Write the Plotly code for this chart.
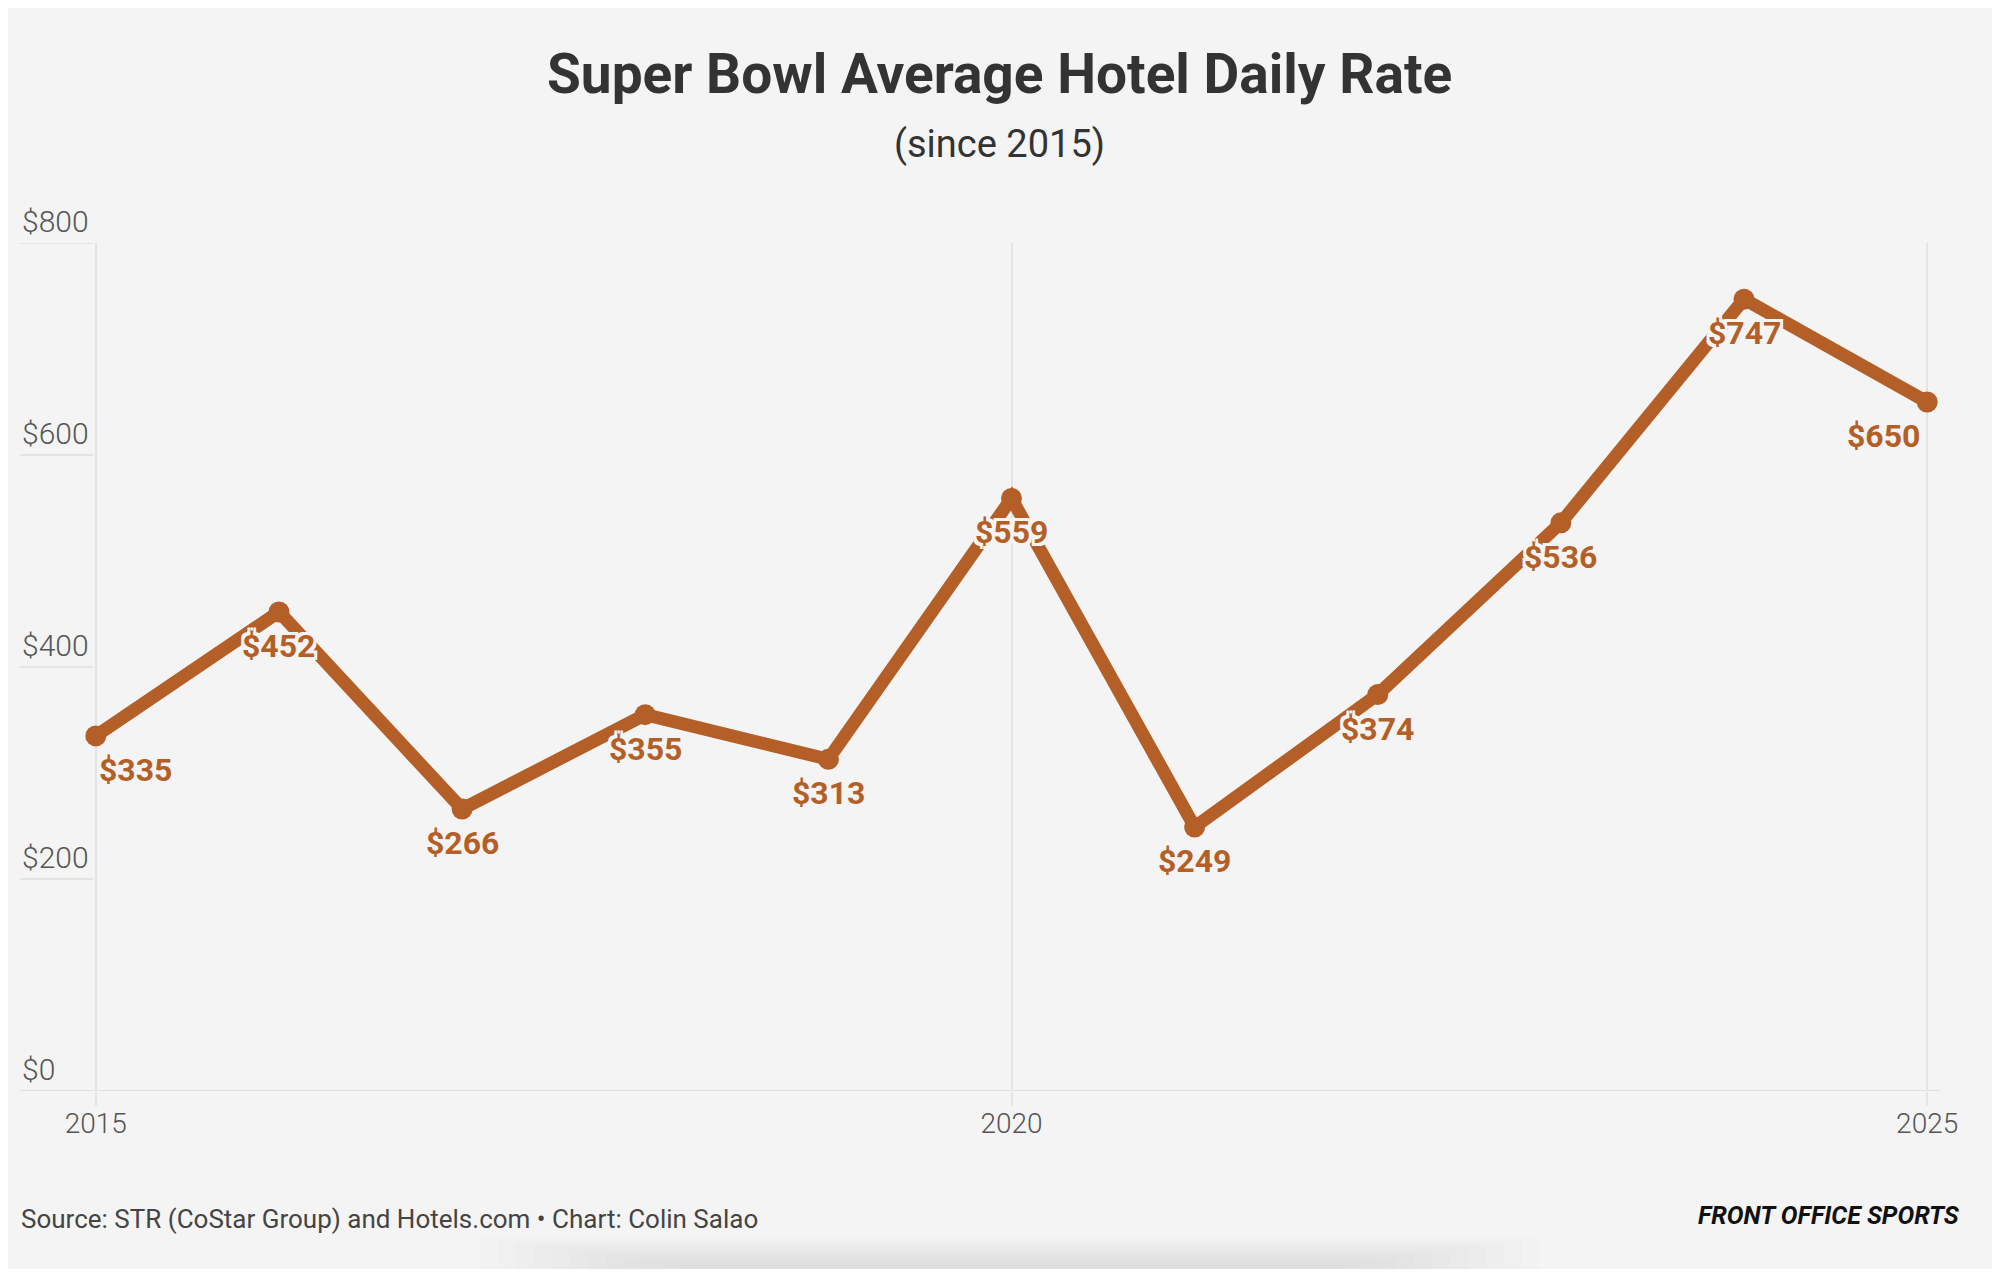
import plotly.graph_objects as go

# Super Bowl average hotel daily rate (USD)
years = [2015, 2016, 2017, 2018, 2019, 2020, 2021, 2022, 2023, 2024, 2025]
rates = [335, 452, 266, 355, 313, 559, 249, 374, 536, 747, 650]

y_ticks = [0, 200, 400, 600, 800]
y_tick_labels = ["$0", "$200", "$400", "$600", "$800"]
x_ticks = [2015, 2020, 2025]

title = "Super Bowl Average Hotel Daily Rate"
subtitle = "(since 2015)"
source = "Source: STR (CoStar Group) and Hotels.com • Chart: Colin Salao"
brand = "FRONT OFFICE SPORTS"

OFF = 8  # page body margin
W, H = 2000 - 2 * OFF, 1277 - 2 * OFF
# plot area, in screen pixels
L, R, T, B = 96, 1927, 243, 1091

BG = "#f4f4f4"
LINE = "#b45f27"
GRID = "#e4e4e4"
TXT = "#555555"
FONT = "Roboto"

pad = 0.01
x_range = [years[0] - pad, years[-1] + pad]
ppy = (R - L) / (years[-1] - years[0])
L_fig = L - OFF - pad * ppy
R_fig = R - OFF + pad * ppy
T_fig, B_fig = T - OFF, B - OFF


def px_x(px):
  return (px - OFF - L_fig) / (R_fig - L_fig)


def px_y(py):
  return (B_fig - (py - OFF)) / (B_fig - T_fig)


halo = ", ".join(f"{dx}px {dy}px 0 {BG}" for dx in (-3, 0, 3) for dy in (-3, 0, 3) if dx or dy)

fig = go.Figure()

fig.add_trace(go.Scatter(
  x=years,
  y=rates,
  mode="lines+markers",
  line=dict(color=LINE, width=13),
  marker=dict(size=21, color=LINE),
  cliponaxis=False,
  hoverinfo="skip",
  showlegend=False
))

# value labels under each point
for i, (yr, val) in enumerate(zip(years, rates)):
  if i == 0:
    anchor, shift = "left", 1
  elif i == len(years) - 1:
    anchor, shift = "right", -5
  else:
    anchor, shift = "center", 0
  fig.add_annotation(
    x=yr, y=val, xref="x", yref="y",
    text=f"${val}",
    showarrow=False,
    xanchor=anchor, yanchor="middle",
    xshift=shift, yshift=-34,
    font=dict(family=FONT, size=32, weight=700, color=LINE, shadow=halo)
  )

# y labels sit above short grid stubs left of the plot
for v, lab in zip(y_ticks, y_tick_labels):
  fig.add_annotation(
    x=px_x(20), y=v, xref="paper", yref="y",
    text=lab, showarrow=False,
    xanchor="left", yanchor="bottom", yshift=2,
    font=dict(family=FONT, size=30, weight=300, color=TXT)
  )
  if v > 0:
    fig.add_shape(type="line", xref="paper", yref="y",
                  x0=px_x(20), x1=px_x(93), y0=v, y1=v,
                  line=dict(color=GRID, width=2), layer="below")

# baseline
fig.add_shape(type="line", xref="paper", yref="y",
              x0=px_x(20), x1=px_x(1940), y0=0, y1=0,
              line=dict(color="#e0e0e0", width=2), layer="below")

# soft card shadow at the bottom
for k in range(14):
  fig.add_shape(type="rect", xref="paper", yref="paper",
                x0=px_x(480 + k * 18), x1=px_x(1540 - k * 18),
                y0=px_y(1290), y1=px_y(1238 + k * 2.5),
                fillcolor="#c4c4c4", opacity=0.035, line_width=0, layer="below")

fig.add_annotation(
  x=px_x(1000), y=px_y(74), xref="paper", yref="paper",
  text=f"<b>{title}</b>", showarrow=False, xanchor="center", yanchor="middle",
  font=dict(family=FONT, size=55, weight=700, color="#333333")
)
fig.add_annotation(
  x=px_x(1000), y=px_y(144), xref="paper", yref="paper",
  text=subtitle, showarrow=False, xanchor="center", yanchor="middle",
  font=dict(family=FONT, size=38, weight=400, color="#333333")
)
fig.add_annotation(
  x=px_x(19), y=px_y(1219), xref="paper", yref="paper",
  text=source, showarrow=False, xanchor="left", yanchor="middle",
  font=dict(family=FONT, size=26, weight=400, color="#444444")
)
fig.add_annotation(
  x=px_x(1962), y=px_y(1215), xref="paper", yref="paper",
  text=f"<b><i>{brand}</i></b>", showarrow=False, xanchor="right", yanchor="middle",
  font=dict(family=FONT, size=25, weight=900, color="#111111")
)

fig.update_layout(
  width=W, height=H,
  margin=dict(l=L_fig, r=W - R_fig, t=T_fig, b=H - B_fig, autoexpand=False),
  paper_bgcolor=BG,
  plot_bgcolor=BG,
  xaxis=dict(
    range=x_range,
    tickvals=x_ticks,
    showgrid=True, gridcolor=GRID, gridwidth=1.5,
    ticks="outside", ticklen=14, tickcolor=GRID, tickwidth=1.5,
    ticklabelstandoff=-7,
    showline=False, zeroline=False,
    tickfont=dict(family=FONT, size=28, weight=300, color=TXT),
    fixedrange=True
  ),
  yaxis=dict(
    range=[0, 800],
    tickvals=y_ticks,
    showticklabels=False, showgrid=False,
    showline=False, zeroline=False,
    fixedrange=True
  )
)

fig.write_html("out.html")
